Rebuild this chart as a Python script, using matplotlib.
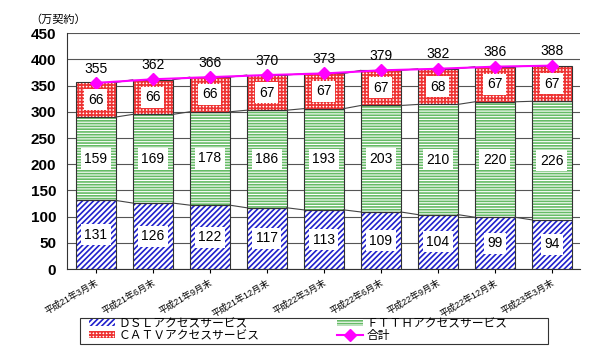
import numpy as np
import matplotlib.pyplot as plt
from matplotlib.patches import Rectangle

plt.rcParams['font.family'] = ['Liberation Sans', 'Noto Sans CJK JP', 'DejaVu Sans']
plt.rcParams['hatch.linewidth'] = 1.2

# data (10k contracts)
periods = ["平成21年3月末", "平成21年6月末", "平成21年9月末", "平成21年12月末",
           "平成22年3月末", "平成22年6月末", "平成22年9月末", "平成22年12月末",
           "平成23年3月末"]
dsl = [131, 126, 122, 117, 113, 109, 104, 99, 94]
ftth = [159, 169, 178, 186, 193, 203, 210, 220, 226]
catv = [66, 66, 66, 67, 67, 67, 68, 67, 67]
total = [355, 362, 366, 370, 373, 379, 382, 386, 388]

x = np.arange(len(periods))
w = 0.7
dsl_a = np.array(dsl)
ftth_a = np.array(ftth)
catv_a = np.array(catv)

fig = plt.figure(figsize=(6, 3.56), dpi=100)
ax = fig.add_axes([0.112, 0.244, 0.855, 0.663])

ax.yaxis.grid(True, color='#555555', linewidth=0.8)
ax.set_axisbelow(True)

b1 = ax.bar(x, dsl_a, w, color='white', edgecolor='#2020cc', hatch='//////', linewidth=0, zorder=2)
ax.bar(x, dsl_a, w, color='none', edgecolor='#333333', linewidth=0.8, zorder=3)
b2 = ax.bar(x, ftth_a, w, bottom=dsl_a, color='white', edgecolor='#66bb66', hatch='------', linewidth=0, zorder=2)
ax.bar(x, ftth_a, w, bottom=dsl_a, color='none', edgecolor='#333333', linewidth=0.8, zorder=3)
b3 = ax.bar(x, catv_a, w, bottom=dsl_a + ftth_a, color='white', edgecolor='#ee3333', hatch='+++++', linewidth=0, zorder=2)
ax.bar(x, catv_a, w, bottom=dsl_a + ftth_a, color='none', edgecolor='#333333', linewidth=0.8, zorder=3)

# series lines between bars
for tops in (dsl_a, dsl_a + ftth_a, dsl_a + ftth_a + catv_a):
    for i in range(len(x) - 1):
        ax.plot([x[i] + w / 2, x[i + 1] - w / 2], [tops[i], tops[i + 1]],
                color='#444444', linewidth=0.8, zorder=3)

line, = ax.plot(x, total, color='#ff00ff', marker='D', markersize=6, linewidth=1.5, zorder=5)

box = dict(boxstyle='square,pad=0.25', facecolor='white', edgecolor='none')
for i in range(len(x)):
    ax.text(x[i], dsl_a[i] / 2, str(dsl[i]), ha='center', va='center', fontsize=10, bbox=box, zorder=6)
    ax.text(x[i], dsl_a[i] + ftth_a[i] / 2, str(ftth[i]), ha='center', va='center', fontsize=10, bbox=box, zorder=6)
    ax.text(x[i], dsl_a[i] + ftth_a[i] + catv_a[i] / 2, str(catv[i]), ha='center', va='center',
            fontsize=10, bbox=box, zorder=6)
    ax.text(x[i], total[i] + 14, str(total[i]), ha='center', va='bottom', fontsize=10, zorder=6)

ax.set_xlim(-0.5, len(x) - 0.5)
ax.set_ylim(0, 450)
ax.set_yticks(range(0, 451, 50))
ax.set_xticks(x)
ax.set_xticklabels(periods, rotation=30, ha='right', rotation_mode='anchor', fontsize=6.5)
ax.tick_params(axis='y', labelsize=11, length=0, pad=8)
ax.tick_params(axis='x', length=3)
for lab in ax.get_yticklabels():
    lab.set_fontweight('bold')
for s in ['top', 'right']:
    ax.spines[s].set_visible(False)
ax.spines['left'].set_color('#333333')
ax.spines['bottom'].set_color('#333333')

fig.text(0.05, 0.935, "（万契約）", fontsize=8)

# column-major fill: gives rows DSL|FTTH and CATV|total
leg = fig.legend([b1, b3, b2, line],
                 ["ＤＳＬアクセスサービス", "ＣＡＴＶアクセスサービス", "ＦＴＴＨアクセスサービス", "合計"],
                 loc='upper left', bbox_to_anchor=(0.148, 0.107),
                 ncol=2, fontsize=8.5, frameon=False,
                 handlelength=2.2, handleheight=0.6, borderpad=0.0, labelspacing=0.0,
                 columnspacing=6.6, handletextpad=0.3, borderaxespad=0)
fig.patches.append(Rectangle((80 / 600, 1 - 344 / 356), 468 / 600, 26 / 356,
                             transform=fig.transFigure, fill=False,
                             edgecolor='#333333', linewidth=0.8))

fig.savefig('out.png', dpi=100)
